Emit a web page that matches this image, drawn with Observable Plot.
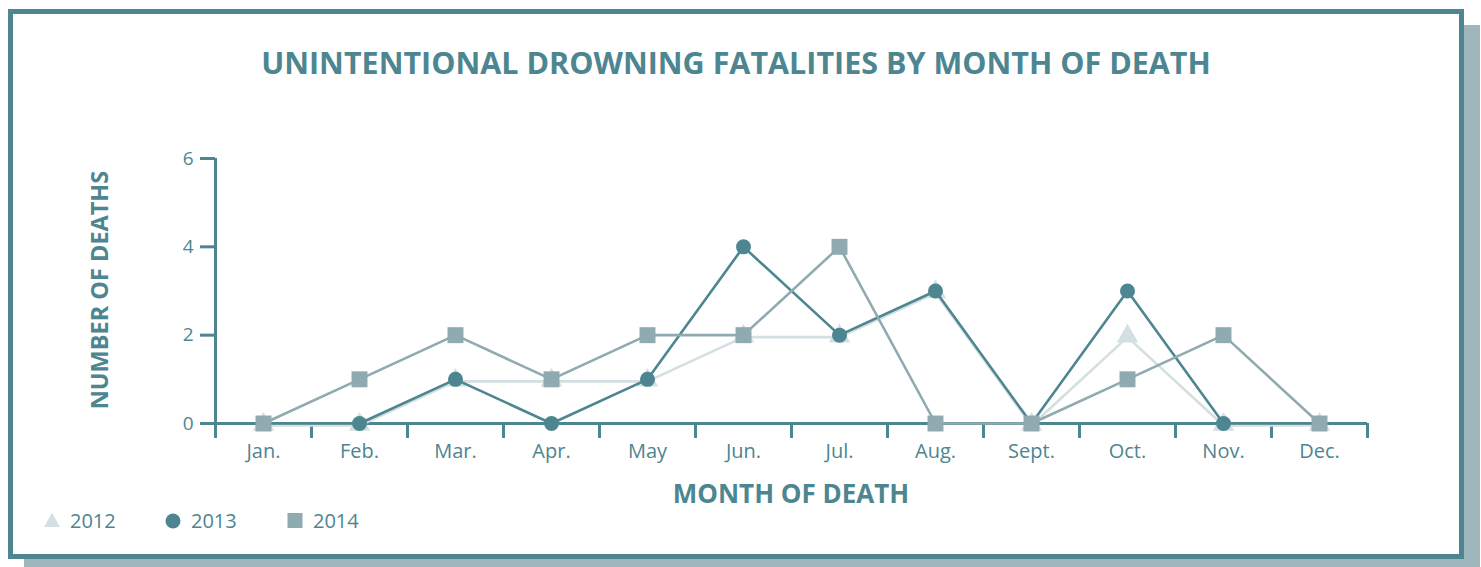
<!DOCTYPE html>
<html><head><meta charset="utf-8">
<script src="https://cdn.jsdelivr.net/npm/d3@7"></script>
<script src="https://cdn.jsdelivr.net/npm/@observablehq/plot@0.6"></script>
<style>
body{margin:0;background:#fff;font-family:"Open Sans",sans-serif;color:#4d8690;}
#frame{position:absolute;left:8px;top:9px;width:1446px;height:540px;border:5px solid #4d8690;box-shadow:16px 16px 0 #9fb6bc;background:#fff;}
#chart{position:absolute;left:0;top:0;}
.t{position:absolute;white-space:nowrap;line-height:1;font-weight:700;color:#4d8690;}
#title{left:736px;top:47px;font-size:30.5px;transform:translateX(-50%);}
#ylab{left:100px;top:290px;font-size:23.5px;transform:translate(-50%,-50%) rotate(-90deg);}
#xlab{left:791px;top:493px;font-size:26px;transform:translate(-50%,-50%);}
#legend{position:absolute;left:0;top:0;}
</style></head>
<body>
<div id="frame"></div>
<div id="chart"></div>
<div class="t" id="title">UNINTENTIONAL DROWNING FATALITIES BY MONTH OF DEATH</div>
<div class="t" id="ylab">NUMBER OF DEATHS</div>
<div class="t" id="xlab">MONTH OF DEATH</div>
<div id="legend"></div>
<script>
const months = ["Jan.","Feb.","Mar.","Apr.","May","Jun.","Jul.","Aug.","Sept.","Oct.","Nov.","Dec."];
const deaths2012 = [0,0,1,1,1,2,2,3,0,2,0,0];
const deaths2013 = [0,0,1,0,1,4,2,3,0,3,0,0];
const deaths2014 = [0,1,2,1,2,2,4,0,0,1,2,0];
const yTicks = [0,2,4,6];
const years = ["2012","2013","2014"];

const TEAL = "#4d8690", GREY = "#8faab0", LIGHT = "#d3dfe1";
const colors = {"2012": LIGHT, "2013": TEAL, "2014": GREY};
const symbols = {"2012": "triangle", "2013": "circle", "2014": "square"};
const sizes = {"2012": 8, "2013": 7.5, "2014": 9};

const rows = (vals, year) => vals.map((v, i) => ({pos: i + 0.5, month: months[i], v, year}));
const series = {"2012": rows(deaths2012, "2012"), "2013": rows(deaths2013, "2013"), "2014": rows(deaths2014, "2014")};
const n = months.length;

const marks = [
  Plot.ruleY([0], {x1: 0, x2: n, stroke: TEAL, strokeWidth: 3}),
  Plot.ruleX([0], {y1: 0, y2: yTicks[yTicks.length-1], stroke: TEAL, strokeWidth: 3}),
  Plot.axisY({ticks: yTicks, tickSize: 15, tickPadding: 7, tickFormat: d3.format("d"), stroke: TEAL, strokeWidth: 3, fill: TEAL, fontSize: 19, label: null}),
  Plot.axisX({ticks: d3.range(n + 1), tickSize: 15, tickFormat: () => "", stroke: TEAL, strokeWidth: 3, label: null}),
  Plot.axisX({ticks: months.map((m, i) => i + 0.5), tickSize: 0, tickPadding: 20, tickFormat: d => months[Math.round(d - 0.5)], fill: TEAL, fontSize: 20, label: null})
];
for (const y of years) {
  marks.push(Plot.line(series[y], {x: "pos", y: "v", stroke: colors[y], strokeWidth: 2.6, dy: y === "2012" ? 2 : 0}));
  marks.push(Plot.dot(series[y], {x: "pos", y: "v", fill: colors[y], symbol: symbols[y], r: sizes[y], dy: y === "2012" ? 1 : 0}));
}

const chart = Plot.plot({
  width: 1481, height: 567,
  marginLeft: 215, marginRight: 114, marginTop: 158, marginBottom: 144,
  x: {type: "linear", domain: [0, n]},
  y: {domain: [0, yTicks[yTicks.length-1]]},
  style: {fontFamily: "Open Sans", color: TEAL, background: "transparent"},
  marks
});
document.getElementById("chart").append(chart);

// legend
const lg = d3.select("#legend").append("svg").attr("width", 400).attr("height", 567);
const legendX = {"2012": 52, "2013": 173, "2014": 295};
for (const y of years) {
  const cx = legendX[y], cy = 521;
  if (symbols[y] === "triangle") lg.append("path").attr("d", `M${cx-8},${cy+6}L${cx+8},${cy+6}L${cx},${cy-8}Z`).attr("fill", colors[y]);
  else if (symbols[y] === "circle") lg.append("circle").attr("cx", cx).attr("cy", cy).attr("r", 7.5).attr("fill", colors[y]);
  else lg.append("rect").attr("x", cx - 7.5).attr("y", cy - 8).attr("width", 15).attr("height", 15).attr("fill", colors[y]);
  lg.append("text").attr("x", cx + 18).attr("y", cy + 7).attr("font-size", 20).attr("font-family", "Open Sans").attr("fill", TEAL).text(y);
}
</script>
</body></html>
